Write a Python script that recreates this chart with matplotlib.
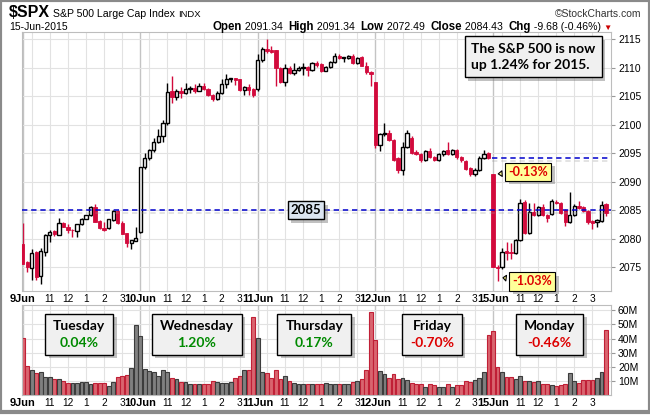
import numpy as np
import matplotlib
matplotlib.use("Agg")
import matplotlib.pyplot as plt
import matplotlib.patheffects as pe
from matplotlib.patches import Rectangle

plt.rcParams['font.family'] = ['Liberation Sans', 'DejaVu Sans']

# 15 minute bars of $SPX, 9-Jun-2015 .. 15-Jun-2015 (26 bars per session)
days = ['9Jun', '10Jun', '11Jun', '12Jun', '15Jun']
day_names = ['Tuesday', 'Wednesday', 'Thursday', 'Friday', 'Monday']
day_change = [0.04, 1.20, 0.17, -0.70, -0.46]
bars_per_day = 26

open_ = [
    2079.0, 2075.9, 2074.8, 2077.6, 2073.4, 2077.7, 2080.6, 2081.4, 2080.7, 2082.8, 2082.0, 2081.6, 2081.4,
    2082.5, 2083.5, 2084.1, 2085.6, 2083.1, 2081.8, 2081.8, 2083.2, 2084.9, 2082.7, 2081.0, 2079.2, 2079.6,
    2081.2, 2092.5, 2094.1, 2095.5, 2097.0, 2098.1, 2100.4, 2105.9, 2104.9, 2105.9, 2105.6, 2106.2, 2106.4,
    2106.0, 2106.8, 2106.3, 2105.3, 2104.6, 2105.5, 2107.1, 2108.1, 2108.2, 2108.0, 2106.1, 2106.6, 2106.2,
    2106.2, 2111.3, 2113.4, 2113.2, 2113.1, 2110.0, 2107.5, 2110.0, 2109.1, 2109.6, 2110.0, 2110.2, 2109.6,
    2110.9, 2110.6, 2109.5, 2110.2, 2111.0, 2112.1, 2111.75, 2111.7, 2112.1, 2110.8, 2111.9, 2110.3, 2109.3,
    2107.5, 2096.4, 2098.3, 2098.6, 2097.3, 2094.1, 2092.0, 2096.1, 2097.6, 2095.3, 2094.9, 2093.8, 2095.4,
    2094.3, 2093.8, 2094.8, 2095.5, 2094.9, 2095.6, 2094.3, 2093.7, 2092.4, 2091.3, 2092.1, 2094.2, 2095.1,
    2091.34, 2075.1, 2075.1, 2077.8, 2077.6, 2077.5, 2079.7, 2086.5, 2081.0, 2084.7, 2084.1, 2085.5, 2084.2,
    2084.4, 2086.5, 2086.3, 2085.0, 2083.0, 2084.2, 2085.8, 2085.5, 2084.9, 2083.1, 2082.9, 2083.1, 2086.0,
]
high = [
    2082.8, 2076.0, 2078.2, 2077.8, 2078.3, 2080.9, 2081.6, 2081.5, 2083.7, 2082.9, 2082.5, 2081.7, 2082.6,
    2083.6, 2084.2, 2085.7, 2086.0, 2083.2, 2083.0, 2083.5, 2085.0, 2085.0, 2083.1, 2081.0, 2079.8, 2082.1,
    2092.6, 2095.0, 2095.8, 2097.6, 2099.2, 2100.9, 2107.4, 2108.6, 2106.3, 2106.6, 2107.3, 2106.9, 2107.2,
    2107.3, 2107.3, 2106.5, 2105.4, 2106.0, 2108.0, 2108.9, 2108.3, 2108.3, 2108.1, 2106.8, 2107.2, 2106.4,
    2112.4, 2113.6, 2115.1, 2113.9, 2113.2, 2110.2, 2110.6, 2110.3, 2110.9, 2110.4, 2110.9, 2110.4, 2111.0,
    2111.2, 2110.8, 2110.4, 2111.2, 2112.6, 2112.4, 2111.9, 2112.2, 2112.4, 2111.9, 2112.0, 2111.0, 2109.4,
    2107.6, 2098.6, 2100.3, 2099.0, 2097.5, 2094.3, 2096.9, 2099.1, 2098.0, 2095.6, 2095.1, 2095.6, 2095.9,
    2094.6, 2095.0, 2095.6, 2096.9, 2095.8, 2095.8, 2094.5, 2093.9, 2092.6, 2092.4, 2094.5, 2095.6, 2095.3,
    2091.34, 2075.4, 2078.3, 2079.4, 2079.3, 2079.9, 2087.0, 2086.7, 2086.3, 2086.2, 2085.7, 2086.1, 2084.4,
    2087.0, 2086.7, 2086.5, 2085.2, 2088.2, 2086.1, 2086.6, 2085.7, 2085.1, 2083.2, 2083.4, 2086.6, 2086.2,
]
low = [
    2075.5, 2074.2, 2072.8, 2072.8, 2072.0, 2077.0, 2079.4, 2080.5, 2080.6, 2082.0, 2081.0, 2080.3, 2080.2,
    2082.4, 2083.4, 2084.0, 2083.0, 2081.7, 2081.4, 2081.7, 2083.1, 2082.6, 2080.9, 2078.5, 2078.1, 2079.5,
    2081.0, 2092.3, 2093.9, 2095.3, 2096.8, 2097.0, 2099.9, 2103.8, 2104.4, 2104.7, 2105.4, 2105.6, 2105.5,
    2105.9, 2106.1, 2105.0, 2104.2, 2104.3, 2105.4, 2106.5, 2107.5, 2107.0, 2106.0, 2105.3, 2105.2, 2104.8,
    2106.0, 2111.0, 2112.6, 2112.6, 2106.8, 2107.3, 2106.9, 2109.0, 2108.7, 2109.4, 2108.8, 2108.6, 2109.5,
    2110.2, 2109.3, 2109.4, 2110.0, 2110.9, 2111.6, 2111.0, 2111.5, 2110.7, 2110.6, 2110.3, 2109.0, 2106.9,
    2096.0, 2095.4, 2098.0, 2097.2, 2093.6, 2091.5, 2091.1, 2095.9, 2094.8, 2094.7, 2093.5, 2093.6, 2094.1,
    2093.6, 2093.6, 2094.6, 2094.7, 2094.7, 2094.0, 2093.5, 2092.0, 2091.0, 2091.0, 2091.9, 2094.0, 2094.0,
    2075.0, 2072.49, 2074.6, 2076.2, 2076.4, 2077.3, 2079.5, 2080.8, 2080.9, 2083.9, 2083.9, 2083.9, 2083.0,
    2084.2, 2086.0, 2084.3, 2082.3, 2082.8, 2084.0, 2085.2, 2084.6, 2082.6, 2081.7, 2082.1, 2083.0, 2084.0,
]
close = [
    2075.6, 2075.0, 2077.4, 2073.3, 2077.8, 2080.6, 2081.1, 2080.9, 2082.7, 2082.0, 2081.5, 2081.5, 2082.5,
    2083.5, 2084.1, 2085.6, 2083.0, 2081.8, 2081.5, 2083.4, 2084.9, 2082.7, 2080.9, 2079.2, 2079.7, 2080.15,
    2092.5, 2094.1, 2095.5, 2096.9, 2098.1, 2100.4, 2105.8, 2104.9, 2105.9, 2105.6, 2106.2, 2106.4, 2106.0,
    2106.8, 2106.3, 2105.2, 2104.6, 2105.5, 2107.1, 2108.1, 2108.15, 2107.9, 2106.1, 2106.6, 2106.1, 2105.2,
    2111.3, 2113.4, 2113.0, 2112.8, 2109.9, 2107.5, 2110.0, 2109.1, 2109.6, 2110.0, 2110.05, 2109.6, 2110.8,
    2110.5, 2109.5, 2110.2, 2111.0, 2112.1, 2111.7, 2111.8, 2112.1, 2110.8, 2111.8, 2110.4, 2109.2, 2108.86,
    2096.4, 2098.3, 2098.6, 2097.3, 2093.8, 2092.0, 2096.1, 2098.5, 2095.0, 2094.9, 2093.8, 2095.4, 2094.3,
    2093.8, 2094.8, 2095.4, 2094.9, 2095.6, 2094.3, 2093.8, 2092.3, 2091.3, 2092.1, 2094.2, 2094.9, 2094.11,
    2075.1, 2074.8, 2077.7, 2077.5, 2077.4, 2079.7, 2086.2, 2081.0, 2084.7, 2084.1, 2085.5, 2084.1, 2083.7,
    2086.6, 2086.2, 2084.5, 2083.0, 2084.2, 2085.8, 2085.4, 2084.9, 2082.9, 2082.8, 2083.2, 2085.9, 2084.43,
]
# volume in millions of shares
volume = [
    40.7, 20.6, 17.5, 15.4, 16.1, 12.8, 12.8, 11.1, 11.1, 9.9, 8.3, 8.3, 8.3,
    9.0, 9.0, 7.6, 8.3, 8.3, 8.3, 6.6, 9.0, 13.0, 13.5, 14.2, 18.9, 49.6,
    41.6, 18.4, 17.0, 16.1, 13.5, 17.5, 16.1, 11.8, 11.1, 9.0, 9.0, 7.6, 7.6,
    7.6, 7.6, 7.6, 9.9, 9.0, 8.3, 8.3, 9.5, 11.8, 13.5, 17.7, 17.7, 55.6,
    40.2, 16.1, 15.4, 12.3, 17.7, 11.1, 13.5, 9.9, 8.3, 7.6, 7.6, 7.6, 7.6,
    7.6, 7.6, 8.3, 7.6, 7.6, 7.6, 7.6, 7.6, 9.0, 9.9, 11.1, 17.7, 58.6,
    39.0, 17.0, 14.7, 11.8, 14.7, 11.3, 11.8, 10.4, 8.3, 7.6, 7.6, 5.9, 7.6,
    7.1, 5.9, 5.9, 7.6, 5.9, 7.1, 7.1, 9.9, 9.5, 10.6, 11.8, 16.1, 42.6,
    45.4, 20.1, 16.1, 13.0, 13.0, 11.1, 13.5, 9.9, 9.9, 9.5, 9.9, 7.6, 7.6,
    7.1, 6.6, 7.1, 7.6, 15.4, 9.9, 8.3, 10.6, 10.6, 10.6, 11.8, 16.1, 46.1,
]
ref_level = 2085
ytd_note = 'The S&P 500 is now\nup 1.24% for 2015.'
quote_date = '15-Jun-2015'

open_, high, low, close = map(np.array, (open_, high, low, close))
volume = np.array(volume)
n = len(close)
x = np.arange(n)

RED = '#d20a3c'
BOXFONT = ['Lato', 'DejaVu Sans']
W, H = 650, 415


def fx(px):
    return px / W


def fy(py):
    return 1 - py / H


fig = plt.figure(figsize=(W / 100, H / 100), dpi=100)
r = fig.canvas.get_renderer()
fig.patches.append(Rectangle((0, fy(412)), 1, fy(0) - fy(412), transform=fig.transFigure,
                             fill=False, ec='#8a8a8a', lw=3))
ax = fig.add_axes([fx(21.5), fy(291), fx(611) - fx(21.5), fy(32) - fy(291)])
axv = fig.add_axes([fx(21.5), fy(395), fx(611) - fx(21.5), fy(305) - fy(395)])

# time axis: 15-minute bars starting 9:30
minutes = 9 * 60 + 30 + 15 * (x % bars_per_day)
day_start = x[x % bars_per_day == 0]
on_hour = x[(minutes % 60 == 0)]
tick_pos, tick_lab = [], []
for p in x:
    if p % bars_per_day == 0:
        tick_pos.append(p)
        tick_lab.append(days[p // bars_per_day])
    elif minutes[p] % 60 == 0:
        hr = minutes[p] // 60
        tick_pos.append(p)
        tick_lab.append('' if hr == 10 else str((hr - 1) % 12 + 1))

for a in (ax, axv):
    a.set_xlim(-0.27, n + 0.1)
    for p in on_hour:
        a.axvline(p, color='#e2e2e2', lw=0.8, zorder=0)
    for p in day_start:
        a.axvline(p, color='#c4c4c4', lw=1.0, zorder=0)
    a.set_xticks(tick_pos)
    a.set_xticklabels(tick_lab)
    for t, lab in zip(a.get_xticklabels(), tick_lab):
        if lab in days:
            t.set_fontweight('bold')
            t.set_fontsize(7.9)
        else:
            t.set_fontsize(7.3)
    a.tick_params(axis='x', length=0, pad=2.5)
    a.yaxis.tick_right()
    a.tick_params(axis='y', length=3, labelsize=7.5, pad=2, color='#999999')
    for s in a.spines.values():
        s.set_color('#bdbdbd')

# price panel
ax.set_ylim(2070.8, 2116.3)
yt = np.arange(2075, 2116, 5)
ax.set_yticks(yt)
for v in yt:
    ax.axhline(v, color='#e2e2e2', lw=0.8, zorder=0)

up = close >= open_
ax.vlines(x, low, high, colors=np.where(up, 'black', RED), lw=1.0, zorder=2)
body = np.maximum(np.abs(close - open_), 0.08)
ax.bar(x[up], body[up], bottom=open_[up], width=0.72, color='white',
       edgecolor='black', lw=1.0, zorder=3)
ax.bar(x[~up], body[~up], bottom=close[~up], width=0.72, color=RED,
       edgecolor=RED, lw=0.6, zorder=3)

shadow = [pe.SimpleLineShadow(offset=(0, -2), shadow_color='#999999', alpha=0.35), pe.Normal()]
ax.axhline(ref_level, color='#0000cc', lw=1.1, ls=(0, (3.5, 2.5)), zorder=4, path_effects=shadow)
last = bars_per_day * (len(days) - 1)
prev_close = close[last - 1]
ax.hlines(prev_close, last - 0.3, n + 0.1, color='#0000cc', lw=1.1, ls=(0, (3.5, 2.5)),
          zorder=4, path_effects=shadow)

box_shadow = [pe.withSimplePatchShadow(offset=(2.5, -2.5), shadow_rgbFace='#777777', alpha=0.45)]
t = ax.text(bars_per_day * 2 + 10.7, ref_level, str(ref_level), ha='center', va='center',
            fontsize=9.5, fontweight='bold', family=BOXFONT, zorder=6,
            bbox=dict(boxstyle='square,pad=0.22', fc='#dbe5f1', ec='black', lw=1))
t.get_bbox_patch().set_path_effects(box_shadow)

gap_pct = (open_[last] / prev_close - 1) * 100
low_pct = (low[last:].min() / prev_close - 1) * 100
for txt, xy, xyt in [
    (f'{gap_pct:.2f}%', (x[last] + 0.55, open_[last]), (x[last] + 7.8, open_[last] + 0.4)),
    (f'{low_pct:.2f}%', (x[last] + 1.6, low[last:].min() + 0.7), (x[last] + 8.7, low[last:].min())),
]:
    an = ax.annotate(txt, xy=xy, xytext=xyt, ha='center', va='center', fontsize=9,
                     fontweight='bold', color='#dd0000', family=BOXFONT, zorder=7,
                     bbox=dict(boxstyle='square,pad=0.25', fc='#ffff99', ec='black', lw=0.8),
                     arrowprops=dict(arrowstyle='wedge,tail_width=0.45,shrink_factor=0.5',
                                     fc='#ffff99', ec='black', lw=0.8))
    an.get_bbox_patch().set_path_effects(box_shadow)

t = fig.text(fx(471), fy(57), ytd_note, ha='left', va='center', fontsize=10,
             fontweight='bold', family=BOXFONT, linespacing=1.45, zorder=8,
             bbox=dict(boxstyle='square,pad=0.45', fc='#f0f0f0', ec='black', lw=1))
t.get_bbox_patch().set_path_effects(box_shadow)

# volume panel
axv.set_ylim(0, 63.8)
vt = np.arange(10, 61, 10)
axv.set_yticks(vt)
axv.set_yticklabels([f'{v}M' for v in vt])
for v in vt:
    axv.axhline(v, color='#e2e2e2', lw=0.8, zorder=0)
vol_down = np.r_[False, close[1:] < close[:-1]]
vol_down[0] = close[0] < open_[0]
axv.bar(x[vol_down], volume[vol_down], width=0.86, color='#d9646f', edgecolor='#c01f36',
        lw=0.8, zorder=2)
axv.bar(x[~vol_down], volume[~vol_down], width=0.86, color='#808080', edgecolor='#3c3c3c',
        lw=0.8, zorder=2)

# daily change boxes, centred on each session
for d, (name, chg) in enumerate(zip(day_names, day_change)):
    xc = d * bars_per_day + bars_per_day / 2 - 0.5
    xpx = axv.transData.transform((xc, 0))[0]
    t1 = fig.text(xpx / W, fy(325.5), name, ha='center', va='center', fontsize=10,
                  fontweight='bold', family=BOXFONT, zorder=7)
    t2 = fig.text(xpx / W, fy(343), f'{chg:.2f}%', ha='center', va='center', fontsize=10,
                  fontweight='bold', family=BOXFONT, zorder=7,
                  color='#008a00' if chg > 0 else '#dd0000')
    bw = max(t1.get_window_extent(r).width, t2.get_window_extent(r).width) + 16
    rect = Rectangle((fx(xpx - bw / 2), fy(355)), bw / W, fy(314) - fy(355),
                     transform=fig.transFigure, fc='#f0f0f0', ec='black', lw=1, zorder=6)
    rect.set_path_effects(box_shadow)
    fig.patches.append(rect)

# header
def run_text(parts, x0, y, anchor='left'):
    xs = fx(x0)
    seq = parts if anchor == 'left' else list(reversed(parts))
    for s, size, w, c in seq:
        tt = fig.text(xs, y, s, fontsize=size, fontweight=w, color=c, ha=anchor, va='baseline')
        dx = tt.get_window_extent(r).width / W
        xs = xs + dx if anchor == 'left' else xs - dx


run_text([('$SPX', 11.5, 'bold', 'black'), (' S&P 500 Large Cap Index ', 7.6, 'normal', 'black'),
          ('INDX', 6.8, 'normal', 'black')], 9, fy(17))
fig.text(fx(641), fy(17), '\u00a9StockCharts.com', fontsize=7.5, va='baseline', ha='right',
         color='#333333')
fig.text(fx(9), fy(30), quote_date, fontsize=7.5, va='baseline')

chg = close[-1] - prev_close
run_text([('Open', 8.3, 'bold', 'black'), (f' {open_[last]:.2f}  ', 7.6, 'normal', 'black'),
          ('High', 8.3, 'bold', 'black'), (f' {high[last:].max():.2f}  ', 7.6, 'normal', 'black'),
          ('Low', 8.3, 'bold', 'black'), (f' {low[last:].min():.2f}  ', 7.6, 'normal', 'black'),
          ('Close', 8.3, 'bold', 'black'), (f' {close[-1]:.2f}  ', 7.6, 'normal', 'black'),
          ('Chg', 8.3, 'bold', 'black'),
          (f' {chg:.2f} ({chg / prev_close * 100:.2f}%) ', 7.6, 'normal', 'black'),
          ('\u25bc', 6, 'normal', '#cc0000')], 612, fy(30), anchor='right')

fig.savefig('out.png', dpi=100)
